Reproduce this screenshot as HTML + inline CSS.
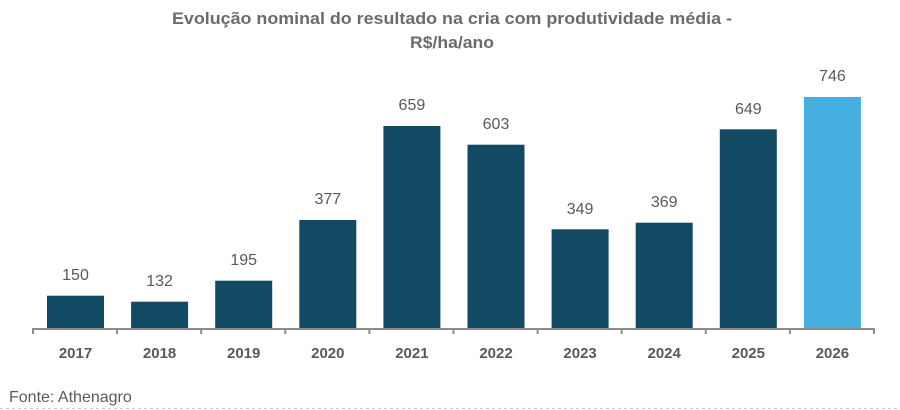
<!DOCTYPE html>
<html><head><meta charset="utf-8"><style>html,body{margin:0;padding:0;background:#fff;}svg{display:block}</style></head>
<body>
<svg width="900" height="410" xmlns="http://www.w3.org/2000/svg" font-family="Liberation Sans, sans-serif">
<text x="452" y="24" text-anchor="middle" font-size="17" font-weight="bold" fill="#6b6b6b" textLength="560" lengthAdjust="spacingAndGlyphs">Evolução nominal do resultado na cria  com produtividade média -</text>
<text x="452" y="48" text-anchor="middle" font-size="17" font-weight="bold" fill="#6b6b6b" textLength="84" lengthAdjust="spacingAndGlyphs">R$/ha/ano</text>
<g fill="#124a63">
<rect x="47" y="295.7" width="57" height="32.3"/>
<rect x="131.1" y="301.7" width="57" height="26.3"/>
<rect x="215.2" y="280.7" width="57" height="47.3"/>
<rect x="299.3" y="220" width="57" height="108"/>
<rect x="383.4" y="126" width="57" height="202"/>
<rect x="467.5" y="144.7" width="57" height="183.3"/>
<rect x="551.6" y="229.3" width="57" height="98.7"/>
<rect x="635.7" y="222.7" width="57" height="105.3"/>
<rect x="719.8" y="129.3" width="57" height="198.7"/>
</g>
<rect x="803.9" y="97" width="57" height="231" fill="#45b0e0"/>
<g stroke="#8c8c8c" stroke-width="2" fill="none">
<line x1="33" y1="329" x2="874" y2="329"/>
<path d="M33 328v6M117.1 328v6M201.2 328v6M285.3 328v6M369.4 328v6M453.5 328v6M537.6 328v6M621.7 328v6M705.8 328v6M789.9 328v6M874 328v6"/>
</g>
<g font-size="16" fill="#595959" text-anchor="middle">
<text x="75.5" y="280">150</text>
<text x="159.6" y="286">132</text>
<text x="243.7" y="265">195</text>
<text x="327.8" y="204">377</text>
<text x="411.9" y="110">659</text>
<text x="496" y="129">603</text>
<text x="580.1" y="214">349</text>
<text x="664.2" y="207">369</text>
<text x="748.3" y="114">649</text>
<text x="832.4" y="81">746</text>
</g>
<g font-size="15" font-weight="bold" fill="#595959" text-anchor="middle">
<text x="75.5" y="358">2017</text>
<text x="159.6" y="358">2018</text>
<text x="243.7" y="358">2019</text>
<text x="327.8" y="358">2020</text>
<text x="411.9" y="358">2021</text>
<text x="496" y="358">2022</text>
<text x="580.1" y="358">2023</text>
<text x="664.2" y="358">2024</text>
<text x="748.3" y="358">2025</text>
<text x="832.4" y="358">2026</text>
</g>
<text x="9" y="402" font-size="16" fill="#595959">Fonte: Athenagro</text>
<line x1="0" y1="408.5" x2="900" y2="408.5" stroke="#c8c8c8" stroke-width="1" stroke-dasharray="3,3"/>
</svg>
</body></html>
